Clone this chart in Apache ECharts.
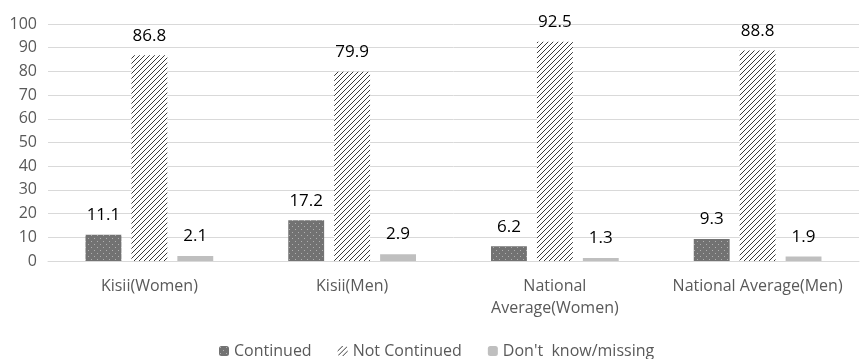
<!DOCTYPE html>
<html>
<head>
<meta charset="utf-8">
<script src="https://cdn.jsdelivr.net/npm/echarts@6/dist/echarts.min.js"></script>
<style>
  html, body { margin: 0; padding: 0; background: #fff; }
  #chart { width: 864px; height: 359px; }
</style>
</head>
<body>
<div id="chart"></div>
<script>
const categories = ['Kisii(Women)', 'Kisii(Men)', 'National\nAverage(Women)', 'National Average(Men)']
const continued = [11.1, 17.2, 6.2, 9.3]
const notContinued = [86.8, 79.9, 92.5, 88.8]
const dontKnow = [2.1, 2.9, 1.3, 1.9]
const yTicks = [0, 10, 20, 30, 40, 50, 60, 70, 80, 90, 100]

// dotted fill
function dotPattern () {
  const c = document.createElement('canvas')
  c.width = 6
  c.height = 6
  const ctx = c.getContext('2d')
  ctx.fillStyle = '#727272'
  ctx.fillRect(0, 0, 6, 6)
  ctx.fillStyle = '#b0b0b0'
  ctx.fillRect(1, 1, 1, 1)
  ctx.fillRect(4, 4, 1, 1)
  return c
}

// diagonal hatch
function hatchPattern () {
  const c = document.createElement('canvas')
  c.width = 5
  c.height = 5
  const ctx = c.getContext('2d')
  ctx.fillStyle = '#ffffff'
  ctx.fillRect(0, 0, 5, 5)
  ctx.strokeStyle = '#3a3a3a'
  ctx.lineWidth = 1
  ctx.beginPath()
  ctx.moveTo(-1, 6)
  ctx.lineTo(6, -1)
  ctx.moveTo(-1, 1)
  ctx.lineTo(1, -1)
  ctx.moveTo(4, 6)
  ctx.lineTo(6, 4)
  ctx.stroke()
  return c
}

const labelStyle = {
  show: true,
  position: 'top',
  distance: 11,
  color: '#000',
  fontSize: 17,
  fontFamily: 'Open Sans'
}

const chart = echarts.init(document.getElementById('chart'))
chart.setOption({
  animation: false,
  textStyle: { fontFamily: 'Open Sans' },
  grid: { left: 48, right: 5, top: 24, bottom: 98 },
  legend: {
    top: 338,
    left: 214,
    itemWidth: 10,
    itemHeight: 10,
    itemGap: 26,
    textStyle: { color: '#595959', fontSize: 16 },
    data: ['Continued', 'Not Continued', "Don't  know/missing"]
  },
  xAxis: {
    type: 'category',
    data: categories,
    axisTick: { show: false },
    axisLine: { lineStyle: { color: '#d9d9d9' } },
    axisLabel: { color: '#595959', fontSize: 16, lineHeight: 22, margin: 14, interval: 0 }
  },
  yAxis: {
    type: 'value',
    min: yTicks[0],
    max: yTicks[yTicks.length - 1],
    interval: 10,
    axisLine: { show: false },
    axisTick: { show: false },
    splitLine: { lineStyle: { color: '#d9d9d9' } },
    axisLabel: { color: '#595959', fontSize: 16, margin: 11 }
  },
  series: [
    {
      name: 'Continued',
      type: 'bar',
      barGap: '28%',
      barCategoryGap: '37%',
      itemStyle: { color: { image: dotPattern(), repeat: 'repeat' } },
      label: labelStyle,
      data: continued
    },
    {
      name: 'Not Continued',
      type: 'bar',
      itemStyle: { color: { image: hatchPattern(), repeat: 'repeat' } },
      label: labelStyle,
      data: notContinued
    },
    {
      name: "Don't  know/missing",
      type: 'bar',
      itemStyle: { color: '#bfbfbf' },
      label: labelStyle,
      data: dontKnow
    }
  ]
})
</script>
</body>
</html>
